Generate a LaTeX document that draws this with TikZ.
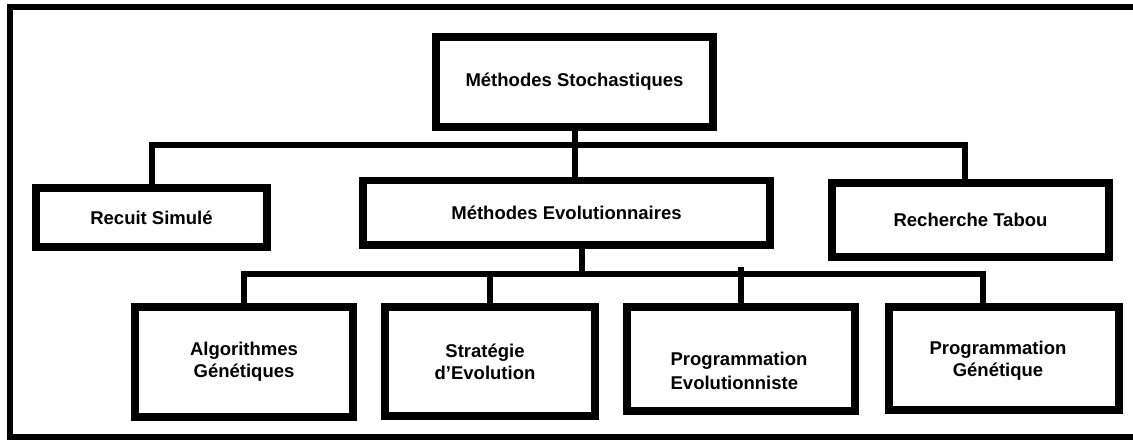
\documentclass[tikz,border=0pt]{standalone}
\usepackage{fontspec}
\setmainfont{Liberation Sans}
\begin{document}
\begin{tikzpicture}[x=1pt,y=-1pt,
  box/.style={draw=black,line width=7.5pt,rectangle,inner sep=0pt,align=center,
    font=\fontsize{18.5}{22}\selectfont\bfseries,fill=white},
  conn/.style={draw=black,line width=6pt,line join=miter,line cap=butt},
  frameline/.style={draw=black,line width=6pt,line join=miter}]
\useasboundingbox (0,0) rectangle (1133,440);
% frame (open on the right)
\draw[frameline] (1133,7) -- (10,7) -- (10,437) -- (1133,437);
% coordinates of the buses
\coordinate (b1) at (0,145);
\coordinate (b2) at (0,274);
\coordinate (b2t) at (0,267);
% boxes
\node[box,minimum width=277pt,minimum height=90pt] (ms) at (574.5,82) {Méthodes Stochastiques};
\node[box,minimum width=231pt,minimum height=59pt] (rs) at (151.5,217.5) {Recuit Simulé};
\node[box,minimum width=407pt,minimum height=64.5pt] (me) at (566.5,212.75) {Méthodes Evolutionnaires};
\node[box,minimum width=277pt,minimum height=74pt] (rt) at (970.5,220) {Recherche Tabou};
\node[box,minimum width=218pt,minimum height=110pt] (ag) at (244,362) {Algorithmes\\Génétiques};
\node[box,minimum width=210pt,minimum height=109pt,
  label={[font=\fontsize{18.5}{22}\selectfont\bfseries,align=center,xshift=-5pt]center:Stratégie\\d’Evolution}] (se) at (490,361.5) {};
\node[box,minimum width=228pt,minimum height=104pt,
  label={[font=\fontsize{18.5}{24}\selectfont\bfseries,align=left,xshift=-2pt,yshift=-12pt]center:Programmation\\Evolutionniste}] (pe) at (741,359) {};
\node[box,minimum width=230pt,minimum height=103pt,
  label={[font=\fontsize{18.5}{22}\selectfont\bfseries,align=center,xshift=-6pt,yshift=-2pt]center:Programmation\\Génétique}] (pg) at (1004,358.5) {};
% drop points
\coordinate (rtd) at ([xshift=-5.5pt]rt.north);
\coordinate (med) at ([xshift=15.5pt]me.south);
\coordinate (pgd) at ([xshift=-21pt]pg.north);
% upper level connectors
\draw[conn] (ms.south) -- (ms.south |- me.north);
\draw[conn] (rs.north) |- (rtd |- b1) -- (rtd);
% lower level connectors
\draw[conn] (med) -- (med |- b2);
\draw[conn] (ag.north) |- (pgd |- b2) -- (pgd);
\draw[conn] (se.north) -- (se.north |- b2);
\draw[conn] (pe.north) -- (pe.north |- b2t);
\end{tikzpicture}
\end{document}
